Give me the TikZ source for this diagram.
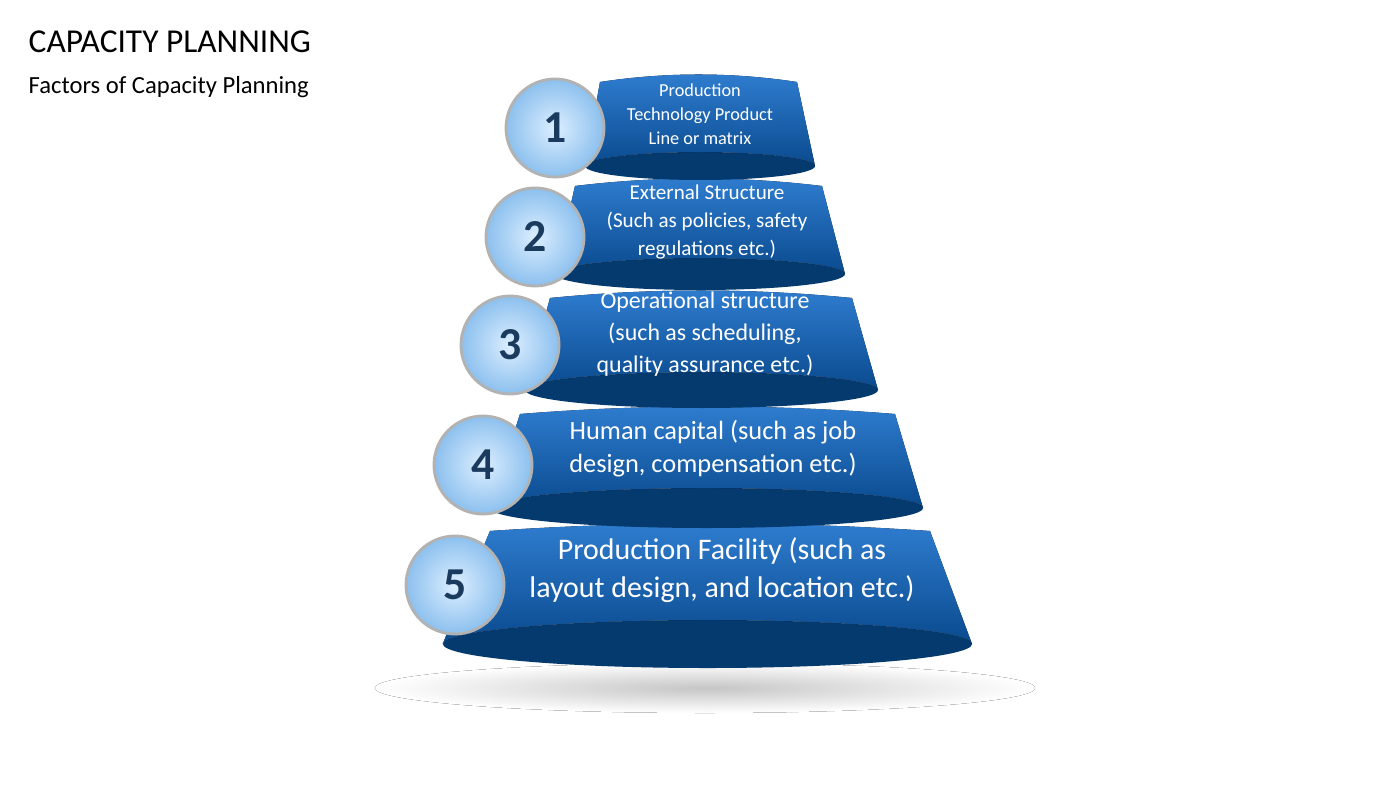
\documentclass[tikz,border=0pt]{standalone}
\usepackage{fontspec}
\setmainfont{Carlito}
\usetikzlibrary{positioning}
\definecolor{tierlight}{HTML}{2F7DD0}
\definecolor{tierdark}{HTML}{0A4A8E}
\definecolor{tierbase}{HTML}{053A6E}
\definecolor{numcol}{HTML}{1B3B5E}
\definecolor{ballin}{HTML}{DCEEFF}
\definecolor{ballout}{HTML}{8CC0EE}
% #1 name, #2 top y, #3 top left x, #4 top right x, #5 bottom y, #6 bottom left x, #7 bottom right x, #8 ellipse ry (cm)
\newcommand{\tier}[8]{%
  \pgfmathsetmacro{\rx}{(#7-#6)/200}
  \fill[tierbase] ({(#6+#7)/2},#5) ellipse[x radius=\rx cm, y radius=#8 cm];
  \fill[top color=tierlight, bottom color=tierdark]
    (#3,#2-6) .. controls ({#3+(#4-#3)/3},#2+4) and ({#4-(#4-#3)/3},#2+4) .. (#4,#2-6)
    -- (#7,#5) arc[start angle=0, end angle=180, x radius=\rx cm, y radius=#8 cm] -- cycle;
  \coordinate (#1) at ({(#3+#4)/2+15},{(#2+#5)/2+4});
}
\tikzset{
  ball/.style={circle, minimum size=0.98cm, inner sep=0pt, draw=gray!60, line width=0.8pt,
    inner color=ballin, outer color=ballout, text=numcol, font=\fontsize{13}{13}\selectfont\bfseries},
  tiertext/.style={text=white, align=center, inner sep=0pt}
}
\begin{document}
\begin{tikzpicture}[x=0.01cm, y=0.01cm]
\useasboundingbox (0,0) rectangle (1400,788);
% title
\node[anchor=west, inner sep=0pt, font=\fontsize{9.5}{10}\selectfont] (title) at (28,746) {CAPACITY PLANNING};
\node[anchor=west, inner sep=0pt, font=\fontsize{7}{8}\selectfont] (subtitle) at (28,701) {Factors of Capacity Planning};
% shadow
\fill[inner color=gray!45, outer color=white] (705,100) ellipse[x radius=3.3cm, y radius=0.25cm];
% tiers, bottom first
\tier{t5}{263}{490}{930}{144}{443}{972}{0.24}
\tier{t4}{380}{520}{895}{280}{490}{923}{0.2}
\tier{t3}{496}{550}{852}{398}{525}{878}{0.18}
\tier{t2}{608}{575}{822}{514}{555}{845}{0.16}
\tier{t1}{712}{600}{797}{622}{585}{815}{0.14}
% texts
\node[tiertext, font=\fontsize{5.2}{6.9}\selectfont] (l1) at (700,674) {Production\\Technology Product\\Line or matrix};
\node[tiertext, font=\fontsize{6}{8}\selectfont] (l2) at (707,566) {External Structure\\(Such as policies, safety\\regulations etc.)};
\node[tiertext, font=\fontsize{6.8}{9.1}\selectfont] (l3) at (705,454) {Operational structure\\(such as scheduling,\\quality assurance etc.)};
\node[tiertext, font=\fontsize{7.5}{9.4}\selectfont] (l4) at (713,339) {Human capital (such as job\\design, compensation etc.)};
\node[tiertext, font=\fontsize{8.5}{11}\selectfont] (l5) at (722,218) {Production Facility (such as\\layout design, and location etc.)};
% number balls
\node[ball] (n1) at (555,660) {1};
\node[ball] (n2) at (535,551) {2};
\node[ball] (n3) at (510,443) {3};
\node[ball] (n4) at (483,323) {4};
\node[ball] (n5) at (455,203) {5};
\end{tikzpicture}
\end{document}
